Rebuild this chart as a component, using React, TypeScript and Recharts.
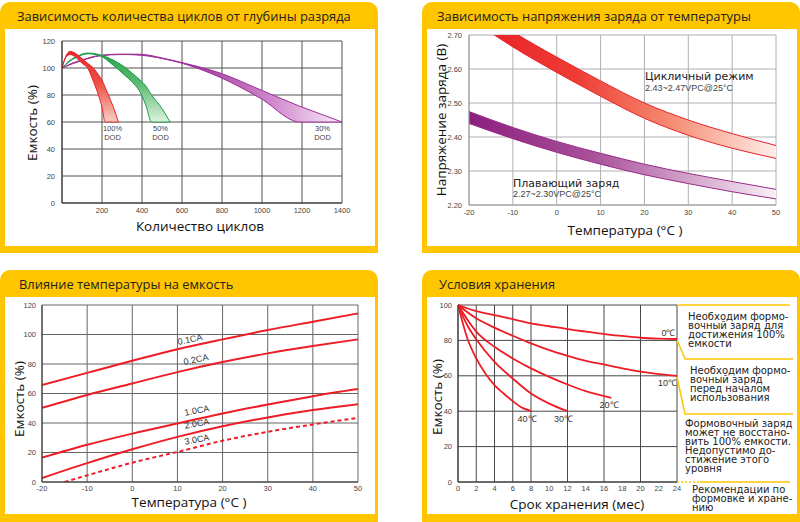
import React from "react";
import { ComposedChart, Area, Line, XAxis, YAxis, CartesianGrid } from "recharts";

// --- panel 1: cycles vs depth of discharge
const cycleTicks = [0, 200, 400, 600, 800, 1000, 1200, 1400];
const pctTicks = [0, 20, 40, 60, 80, 100, 120];

const dod100X = [0, 20, 40, 60, 80, 100, 128, 157, 182, 200, 215, 232, 258, 282];
const dod100Hi = [100, 109, 112.3, 111.5, 109.5, 107, 103.5, 100, 95, 91, 86, 80, 70.5, 60];
const dod100Lo = [100, 108, 110, 109, 106.5, 103.5, 100, 90, 80, 71, 60, 60, 60, 60];

const dod50X = [0, 30, 73, 132, 198, 240, 273, 315, 348, 398, 420, 448, 500, 540];
const dod50Hi = [100, 104.5, 108.6, 111.1, 109.4, 107, 104.5, 100.5, 96.5, 90, 86.5, 80, 70, 60];
const dod50Lo = [100, 104, 108, 110.5, 108.5, 104, 100, 94.5, 90, 80, 72, 60, 60, 60];

const dod30X = [0, 50, 100, 190, 300, 390, 500, 600, 790, 990, 1190, 1300, 1400];
const dod30Hi = [100, 103.5, 106, 109.4, 110.3, 110.2, 107.5, 104, 96.3, 84, 71.6, 65.5, 60];
const dod30Lo = [100, 103, 105.5, 109, 110, 109.5, 107, 103.5, 93.1, 77.8, 60, 60, 60];

// --- panel 2: charge voltage vs temperature
const tempTicks = [-20, -10, 0, 10, 20, 30, 40, 50];
const voltTicks = [2.2, 2.3, 2.4, 2.5, 2.6, 2.7];
const cycleHi = [2.8, 2.71, 2.635, 2.565, 2.5, 2.45, 2.41, 2.375];
const cycleLo = [2.75, 2.665, 2.59, 2.52, 2.455, 2.405, 2.367, 2.337];
const floatHi = [2.475, 2.428, 2.387, 2.352, 2.32, 2.293, 2.269, 2.246];
const floatLo = [2.44, 2.395, 2.355, 2.32, 2.289, 2.263, 2.239, 2.218];

// --- panel 3: capacity vs temperature
const ca01 = [65.7, 74, 82.2, 90, 96.7, 103, 108.7, 114.3];
const ca02 = [50.3, 59, 66.8, 74.5, 81.3, 87.2, 92.2, 96.7];
const ca10 = [16.5, 25.2, 32.8, 39.7, 46.4, 52.5, 58.2, 63];
const ca20 = [2.7, 12.8, 22.2, 30.6, 37.8, 43.8, 48.8, 52.8];
const ca30X = [-15, -10, 0, 10, 20, 30, 40, 50];
const ca30 = [0, 4.5, 13.1, 20.4, 28, 34, 39, 43.5];

// --- panel 4: storage
const monthTicks = [0, 2, 4, 6, 8, 10, 12, 14, 16, 18, 20, 22, 24];
const storeTicks = [0, 20, 40, 60, 80, 100];
const t0X = [0, 2, 4, 6, 8, 10, 12, 14, 16, 18, 20, 22, 24];
const t0 = [100, 96.6, 94.3, 92, 89.6, 88, 86.4, 85, 83.6, 82.5, 81.5, 81, 80.8];
const t10 = [100, 92.5, 87.2, 82.6, 78.3, 74.5, 71.3, 68.5, 66.4, 64.2, 62.3, 61, 60];
const t20X = [0, 2, 4, 6, 8, 10, 12, 14, 16.8];
const t20 = [100, 85, 76.4, 69.8, 64.2, 59.4, 55.1, 51.3, 47.5];
const t30X = [0, 1, 2, 4, 6, 8, 10, 12];
const t30 = [100, 88.7, 80.6, 67.9, 58.5, 50, 44.3, 40];
const t40X = [0, 1, 2, 3, 4, 5, 6, 7, 8];
const t40 = [100, 81.5, 69.8, 61.3, 54.7, 50, 45.7, 42, 40.2];

const YELLOW = "#FFC600";
const RED = "#EE1C25";
const SANS = "'Open Sans', 'DejaVu Sans', sans-serif";
const DEJAVU = "'DejaVu Sans', sans-serif";
const ARIAL = "'Liberation Sans', Arial, sans-serif";
const TICK = { fontSize: 7.5, fill: "#444", fontFamily: ARIAL };

const band = (xs: number[], lo: number[], hi: number[]) => xs.map((x, i) => ({ x, lo: lo[i], hi: hi[i] }));
const line = (xs: number[], ys: number[]) => xs.map((x, i) => ({ x, y: ys[i] }));
const range = (d: any) => [d.lo, d.hi];

function Frame({ x, y, w, h, title, tx, wb = 7 }: any) {
  return (
    <div style={{ position: "absolute", left: x, top: y, width: w, height: h, background: YELLOW, borderRadius: "10px 10px 0 0" }}>
      <div style={{ position: "absolute", left: tx, top: 0, height: 27, lineHeight: "29px", fontFamily: SANS, fontSize: 12.9, color: "#222", whiteSpace: "nowrap" }}>
        {title}
      </div>
      <div style={{ position: "absolute", left: 5, top: 27, width: 370, bottom: wb, background: "#fff" }} />
    </div>
  );
}

function Txt({ x, y, children, size = 9, font = ARIAL, color = "#333", center = false, rotate = 0, lh }: any) {
  return (
    <div
      style={{
        position: "absolute",
        left: x,
        top: y,
        fontSize: size,
        fontFamily: font,
        color,
        whiteSpace: "pre",
        lineHeight: lh ? lh + "px" : 1,
        textAlign: center ? "center" : "left",
        transform: `translate(${center ? "-50%" : "0"}, -50%) rotate(${rotate}deg)`,
      }}
    >
      {children}
    </div>
  );
}

function VLabel({ x, y, children }: any) {
  return (
    <div
      style={{
        position: "absolute",
        left: x,
        top: y,
        fontFamily: SANS,
        fontSize: 13.5,
        lineHeight: 1,
        color: "#111",
        whiteSpace: "nowrap",
        transform: "translate(-50%, -50%) rotate(-90deg)",
      }}
    >
      {children}
    </div>
  );
}

function HLabel({ x, y, children }: any) {
  return (
    <Txt x={x} y={y} size={13.5} font={SANS} color="#111" center lh={14}>
      {children}
    </Txt>
  );
}

export default function App() {
  const noLine = { dot: false, activeDot: false, isAnimationActive: false } as const;
  const note = { size: 10, font: DEJAVU, color: "#222", lh: 9.2 };
  return (
    <div style={{ position: "absolute", left: 0, top: 0, width: 800, height: 522, background: "#fff", overflow: "hidden" }}>
      <Frame x={0} y={2} w={378} h={251} tx={17} title="Зависимость количества циклов от глубины разряда" />
      <Frame x={422} y={2} w={378} h={251} tx={15} title="Зависимость напряжения заряда от температуры" />
      <Frame x={0} y={270} w={378} h={252} tx={19} wb={8} title="Влияние температуры на емкость" />
      <Frame x={422} y={270} w={378} h={252} tx={17} wb={8} title="Условия хранения" />

      {/* panel 1 */}
      <div style={{ position: "absolute", left: 0, top: 30 }}>
        <ComposedChart width={375} height={215} margin={{ top: 11, right: 33, bottom: 22, left: 32 }}>
          <defs>
            <linearGradient id="g100" x1="0" y1="0" x2="0" y2="1">
              <stop offset="0" stopColor="#e52a2a" />
              <stop offset="0.45" stopColor="#ea5046" />
              <stop offset="1" stopColor="#f9cfc4" />
            </linearGradient>
            <linearGradient id="g50" x1="0" y1="0" x2="0" y2="1">
              <stop offset="0" stopColor="#2a9f4e" />
              <stop offset="0.45" stopColor="#5cbb72" />
              <stop offset="1" stopColor="#ddf2de" />
            </linearGradient>
            <linearGradient id="g30" x1="0" y1="0" x2="1" y2="0">
              <stop offset="0" stopColor="#8e228c" />
              <stop offset="0.45" stopColor="#9c349a" />
              <stop offset="0.75" stopColor="#cf88cc" />
              <stop offset="1" stopColor="#f8ecf8" />
            </linearGradient>
          </defs>
          <CartesianGrid stroke="#505050" />
          <XAxis type="number" dataKey="x" domain={[0, 1400]} ticks={cycleTicks} tickFormatter={(v) => (v === 0 ? "" : String(v))} tick={TICK} tickLine={false} axisLine={{ stroke: "#333" }} tickSize={4} tickMargin={1} height={20} allowDataOverflow />
          <YAxis type="number" domain={[0, 120]} ticks={pctTicks} tick={TICK} tickLine={false} axisLine={{ stroke: "#333" }} tickSize={5} tickMargin={2} width={30} />
          <Area data={band(dod30X, dod30Lo, dod30Hi)} dataKey={range} type="monotone" stroke="#a0309a" strokeWidth={1} fill="url(#g30)" fillOpacity={1} {...noLine} />
          <Area data={band(dod50X, dod50Lo, dod50Hi)} dataKey={range} type="monotone" stroke="#1a9c48" strokeWidth={1} fill="url(#g50)" fillOpacity={1} {...noLine} />
          <Area data={band(dod100X, dod100Lo, dod100Hi)} dataKey={range} type="monotone" stroke="#e8232a" strokeWidth={1} fill="url(#g100)" fillOpacity={1} {...noLine} />
        </ComposedChart>
      </div>
      <Txt x={112.5} y={132.5} size={7.5} center lh={9} color="#444">{"100%\nDOD"}</Txt>
      <Txt x={160.5} y={132.5} size={7.5} center lh={9} color="#444">{"50%\nDOD"}</Txt>
      <Txt x={322.5} y={132.5} size={7.5} center lh={9} color="#444">{"30%\nDOD"}</Txt>
      <VLabel x={33} y={123}>Емкость (%)</VLabel>
      <HLabel x={200} y={226}>Количество циклов</HLabel>

      {/* panel 2 */}
      <div style={{ position: "absolute", left: 426, top: 29 }}>
        <ComposedChart width={370} height={217} margin={{ top: 6, right: 20, bottom: 21, left: 13 }}>
          <defs>
            <linearGradient id="gcyc" x1="0" y1="0" x2="1" y2="0">
              <stop offset="0" stopColor="#e81e28" />
              <stop offset="0.35" stopColor="#ee3c34" />
              <stop offset="0.65" stopColor="#f58a70" />
              <stop offset="1" stopColor="#feeeea" />
            </linearGradient>
            <linearGradient id="gflt" x1="0" y1="0" x2="1" y2="0">
              <stop offset="0" stopColor="#8c1f7e" />
              <stop offset="0.4" stopColor="#a8509a" />
              <stop offset="1" stopColor="#f8eef6" />
            </linearGradient>
          </defs>
          <CartesianGrid stroke="#b0b0b0" />
          <XAxis type="number" dataKey="x" domain={[-20, 50]} ticks={tempTicks} tick={TICK} tickLine={false} axisLine={{ stroke: "#999" }} tickSize={4} tickMargin={1} height={20} allowDataOverflow />
          <YAxis type="number" domain={[2.2, 2.7]} ticks={voltTicks} tickFormatter={(v) => v.toFixed(2)} tick={TICK} tickLine={false} axisLine={{ stroke: "#999" }} tickSize={5} tickMargin={2} width={30} allowDataOverflow />
          <Area data={band(tempTicks, cycleLo, cycleHi)} dataKey={range} type="monotone" stroke="#e8232a" strokeWidth={1} fill="url(#gcyc)" fillOpacity={1} {...noLine} />
          <Area data={band(tempTicks, floatLo, floatHi)} dataKey={range} type="monotone" stroke="#9a2a86" strokeWidth={1} fill="url(#gflt)" fillOpacity={1} {...noLine} />
        </ComposedChart>
      </div>
      <Txt x={645} y={76} size={11} font={DEJAVU} color="#222">Цикличный режим</Txt>
      <Txt x={645} y={87.5} size={9} color="#444">2.43~2.47VPC@25°C</Txt>
      <Txt x={513} y={182.5} size={11} font={DEJAVU} color="#222">Плавающий заряд</Txt>
      <Txt x={513} y={193.5} size={9} color="#444">2.27~2.30VPC@25°C</Txt>
      <VLabel x={442} y={120}>Напряжение заряда (В)</VLabel>
      <HLabel x={625} y={230}>Температура (°C )</HLabel>

      {/* panel 3 */}
      <div style={{ position: "absolute", left: 5, top: 297 }}>
        <ComposedChart width={370} height={217} margin={{ top: 8, right: 17, bottom: 14, left: 12 }}>
          <CartesianGrid stroke="#666" />
          <XAxis type="number" dataKey="x" domain={[-20, 50]} ticks={tempTicks} tick={TICK} tickLine={false} axisLine={{ stroke: "#333" }} tickSize={3} tickMargin={1} height={18} allowDataOverflow />
          <YAxis type="number" domain={[0, 120]} ticks={pctTicks} tick={TICK} tickLine={false} axisLine={{ stroke: "#333" }} tickSize={4} tickMargin={2} width={25} allowDataOverflow />
          <Line data={line(tempTicks, ca01)} dataKey="y" type="monotone" stroke={RED} strokeWidth={2} {...noLine} />
          <Line data={line(tempTicks, ca02)} dataKey="y" type="monotone" stroke={RED} strokeWidth={2} {...noLine} />
          <Line data={line(tempTicks, ca10)} dataKey="y" type="monotone" stroke={RED} strokeWidth={2} {...noLine} />
          <Line data={line(tempTicks, ca20)} dataKey="y" type="monotone" stroke={RED} strokeWidth={2} {...noLine} />
          <Line data={line(ca30X, ca30)} dataKey="y" type="monotone" stroke={RED} strokeWidth={2} strokeDasharray="4 3" {...noLine} />
        </ComposedChart>
      </div>
      <Txt x={190} y={339.5} center rotate={-12}>0.1CA</Txt>
      <Txt x={195.5} y={359.5} center rotate={-12}>0.2CA</Txt>
      <Txt x={197} y={410.5} center rotate={-10}>1.0CA</Txt>
      <Txt x={197} y={424} center rotate={-10}>2.0CA</Txt>
      <Txt x={197} y={439.5} center rotate={-10}>3.0CA</Txt>
      <VLabel x={20} y={399}>Емкость (%)</VLabel>
      <HLabel x={189} y={502}>Температура (°C )</HLabel>

      {/* panel 4 */}
      <div style={{ position: "absolute", left: 426, top: 297 }}>
        <ComposedChart width={370} height={217} margin={{ top: 8, right: 119, bottom: 14, left: 7 }}>
          <CartesianGrid stroke="#484848" />
          <XAxis type="number" dataKey="x" domain={[0, 24]} ticks={monthTicks} tick={TICK} tickLine={false} axisLine={{ stroke: "#333" }} tickSize={3} tickMargin={1} height={18} allowDataOverflow />
          <YAxis type="number" domain={[0, 100]} ticks={storeTicks} tick={TICK} tickLine={false} axisLine={{ stroke: "#333" }} tickSize={4} tickMargin={2} width={25} />
          <Line data={line(t0X, t0)} dataKey="y" type="monotone" stroke={RED} strokeWidth={1.8} {...noLine} />
          <Line data={line(t0X, t10)} dataKey="y" type="monotone" stroke={RED} strokeWidth={1.8} {...noLine} />
          <Line data={line(t20X, t20)} dataKey="y" type="monotone" stroke={RED} strokeWidth={1.8} {...noLine} />
          <Line data={line(t30X, t30)} dataKey="y" type="monotone" stroke={RED} strokeWidth={1.8} {...noLine} />
          <Line data={line(t40X, t40)} dataKey="y" type="monotone" stroke={RED} strokeWidth={1.8} {...noLine} />
        </ComposedChart>
      </div>
      <Txt x={668.5} y={333} center>0℃</Txt>
      <Txt x={667.5} y={383} center>10℃</Txt>
      <Txt x={609} y={405} center>20℃</Txt>
      <Txt x={563.5} y={419} center>30℃</Txt>
      <Txt x={527} y={419} center>40℃</Txt>
      <VLabel x={438} y={397}>Емкость (%)</VLabel>
      <HLabel x={577} y={504}>Срок хранения (мес)</HLabel>

      <svg width={800} height={522} style={{ position: "absolute", left: 0, top: 0, pointerEvents: "none" }}>
        <g stroke={YELLOW} strokeWidth={1.5} fill="none">
          <path d="M677 305 H790" />
          <path d="M677 340 L685 359 H793" />
          <path d="M677 377 L685 414 H793" />
          <path d="M677 482 H700" strokeDasharray="2 2" />
          <path d="M700 482 H790" />
        </g>
      </svg>
      <Txt x={688} y={329.5} {...note}>{"Необходим формо-\nвочный заряд для\nдостижения 100%\nемкости"}</Txt>
      <Txt x={690} y={383.5} {...note}>{"Необходим формо-\nвочный заряд\nперед началом\nиспользования"}</Txt>
      <Txt x={685} y={445.5} {...note} lh={9}>{"Формовочный заряд\nможет не восстано-\nвить 100% емкости.\nНедопустимо до-\nстижение этого\nуровня"}</Txt>
      <Txt x={692} y={498.5} {...note}>{"Рекомендации по\nформовке и хране-\nнию"}</Txt>
    </div>
  );
}
